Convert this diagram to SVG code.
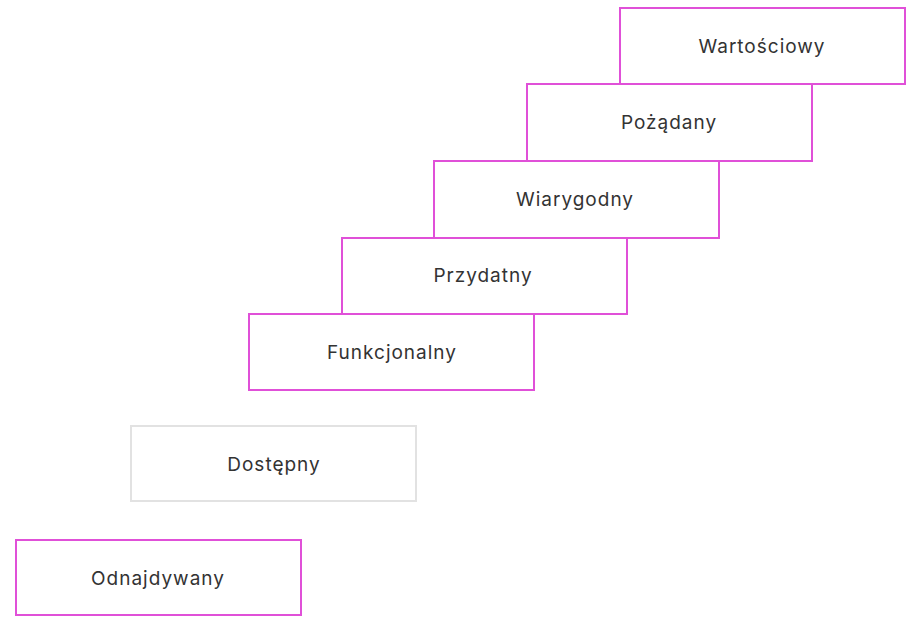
<svg xmlns="http://www.w3.org/2000/svg" width="908" height="617" viewBox="0 0 908 617">
<style>
.b{fill:#fff;stroke:#e050d8;stroke-width:2}
.g{fill:#fff;stroke:#e2e2e2;stroke-width:2}
.t{font-family:Inter,"Noto Sans",sans-serif;font-size:19px;font-weight:400;letter-spacing:1px;fill:#333;text-anchor:middle;dominant-baseline:central}
</style>
<rect width="908" height="617" fill="#fff"/>
<g id="connectors"></g>
<g id="odnajdywany"><rect class="b" x="16" y="540" width="285" height="75"/><text class="t" x="158" y="578">Odnajdywany</text></g>
<g id="dostepny"><rect class="g" x="131" y="426" width="285" height="75"/><text class="t" x="274" y="464">Dostępny</text></g>
<g id="funkcjonalny"><rect class="b" x="249" y="314" width="285" height="76"/><text class="t" x="392" y="352">Funkcjonalny</text></g>
<g id="przydatny"><rect class="b" x="342" y="238" width="285" height="76"/><text class="t" x="483" y="275">Przydatny</text></g>
<g id="wiarygodny"><rect class="b" x="434" y="161" width="285" height="77"/><text class="t" x="575" y="199">Wiarygodny</text></g>
<g id="pozadany"><rect class="b" x="527" y="84" width="285" height="77"/><text class="t" x="669" y="122">Pożądany</text></g>
<g id="wartosciowy"><rect class="b" x="620" y="8" width="285" height="76"/><text class="t" x="762" y="46">Wartościowy</text></g>
</svg>
